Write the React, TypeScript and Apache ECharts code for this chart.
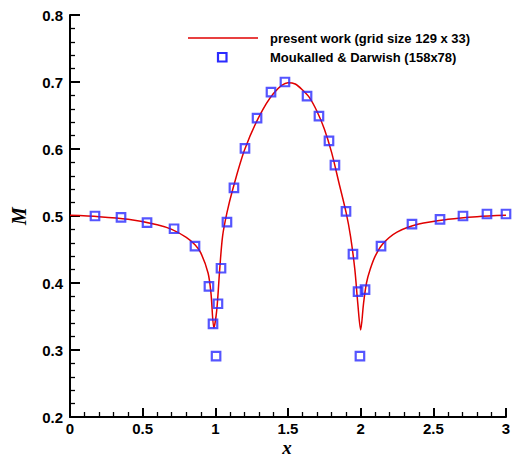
import React, { useEffect, useRef } from "react";
import * as echarts from "echarts";

const lineX = [0, 0.2, 0.4, 0.6, 0.7, 0.8, 0.86, 0.9, 0.95, 0.97, 0.99, 1.01, 1.03, 1.05, 1.08, 1.12, 1.2, 1.3, 1.4, 1.5, 1.55, 1.6, 1.65, 1.7, 1.75, 1.8, 1.85, 1.9, 1.93, 1.96, 1.98, 2.0, 2.02, 2.04, 2.065, 2.1, 2.15, 2.25, 2.4, 2.6, 2.8, 3.0];
const lineM = [0.501, 0.499, 0.495, 0.487, 0.48, 0.468, 0.457, 0.445, 0.415, 0.385, 0.333, 0.36, 0.42, 0.47, 0.505, 0.54, 0.598, 0.648, 0.683, 0.699, 0.697, 0.688, 0.676, 0.656, 0.63, 0.595, 0.55, 0.505, 0.47, 0.42, 0.37, 0.33, 0.37, 0.4, 0.42, 0.44, 0.458, 0.476, 0.488, 0.495, 0.499, 0.501];

const refX = [0.172, 0.351, 0.53, 0.716, 0.86, 0.956, 0.984, 1.005, 1.018, 1.039, 1.08, 1.128, 1.204, 1.287, 1.383, 1.479, 1.631, 1.713, 1.782, 1.823, 1.899, 1.947, 1.982, 1.995, 2.03, 2.14, 2.353, 2.546, 2.704, 2.869, 3.0];
const refM = [0.5, 0.498, 0.49, 0.481, 0.455, 0.395, 0.339, 0.291, 0.369, 0.422, 0.491, 0.542, 0.601, 0.646, 0.685, 0.7, 0.679, 0.649, 0.612, 0.576, 0.507, 0.443, 0.387, 0.291, 0.39, 0.455, 0.488, 0.495, 0.5, 0.503, 0.503];

const seriesNames = ["present work (grid size 129 x 33)", "Moukalled & Darwish (158x78)"];
const xAxisTitle = "x";
const yAxisTitle = "M";

export default function App() {
  const ref = useRef<HTMLDivElement>(null);
  useEffect(() => {
    if (!ref.current) return;
    const chart = echarts.init(ref.current, undefined, { renderer: "svg", width: 513, height: 458 });
    const tickFont = { fontFamily: "Arial", fontWeight: "bold", fontSize: 15, color: "#000" };
    const serifFamily = "Liberation Serif, Times New Roman, serif";
    chart.setOption({
      animation: false,
      backgroundColor: "#fff",
      grid: { left: 70, right: 7, top: 15, bottom: 41, containLabel: false, outerBoundsMode: "none" },
      xAxis: {
        type: "value",
        min: 0,
        max: 3,
        interval: 0.5,
        axisLine: { onZero: false, lineStyle: { color: "#000", width: 2 } },
        axisTick: { inside: true, length: 9, lineStyle: { color: "#000", width: 2 } },
        minorTick: { show: true, splitNumber: 5, length: 5, lineStyle: { color: "#000", width: 1.3 } },
        splitLine: { show: false },
        axisLabel: { ...tickFont, margin: 4, lineHeight: 14, formatter: (v: number) => String(v) },
      },
      yAxis: {
        type: "value",
        min: 0.2,
        max: 0.8,
        interval: 0.1,
        name: yAxisTitle,
        nameLocation: "middle",
        nameGap: 41,
        nameRotate: 90,
        nameTextStyle: { fontFamily: serifFamily, fontStyle: "italic", fontWeight: "bold", color: "#000", fontSize: 20 },
        axisLine: { show: true, onZero: false, lineStyle: { color: "#000", width: 2 } },
        axisTick: { inside: true, length: 10, lineStyle: { color: "#000", width: 2 } },
        minorTick: { show: true, splitNumber: 5, length: 5, lineStyle: { color: "#000", width: 1.3 } },
        splitLine: { show: false },
        axisLabel: { ...tickFont, margin: 7, formatter: (v: number) => v.toFixed(1) },
      },
      series: [
        {
          name: seriesNames[0],
          type: "line",
          data: lineX.map((x, i) => [x, lineM[i]]),
          showSymbol: false,
          smooth: 0.3,
          lineStyle: { color: "#e00000", width: 1.5 },
          z: 2,
        },
        {
          name: seriesNames[1],
          type: "scatter",
          data: refX.map((x, i) => [x, refM[i]]),
          symbol: "rect",
          symbolSize: 8.5,
          itemStyle: { color: "rgba(0,0,0,0)", borderColor: "#2b2bff", borderWidth: 2.2 },
          z: 3,
        },
      ],
      graphic: [
        { type: "line", shape: { x1: 188, y1: 38, x2: 258, y2: 38 }, style: { stroke: "#e00000", lineWidth: 1.5 } },
        { type: "rect", shape: { x: 218, y: 53, width: 8.5, height: 8.5 }, style: { fill: "none", stroke: "#2b2bff", lineWidth: 2.2 } },
        { type: "text", x: 270, y: 38, style: { text: seriesNames[0], fontFamily: "Arial", fontWeight: "bold", fontSize: 13, fill: "#000", verticalAlign: "middle" } },
        { type: "text", x: 270, y: 57, style: { text: seriesNames[1], fontFamily: "Arial", fontWeight: "bold", fontSize: 13, fill: "#000", verticalAlign: "middle" } },
        { type: "text", x: 287, y: 447, style: { text: xAxisTitle, fontFamily: serifFamily, fontStyle: "italic", fontWeight: "bold", fontSize: 19, lineHeight: 16, fill: "#000", align: "center", verticalAlign: "middle" } },
      ],
    });
    return () => chart.dispose();
  }, []);
  return <div ref={ref} style={{ position: "fixed", left: 0, top: 0, width: 513, height: 458 }} />;
}
